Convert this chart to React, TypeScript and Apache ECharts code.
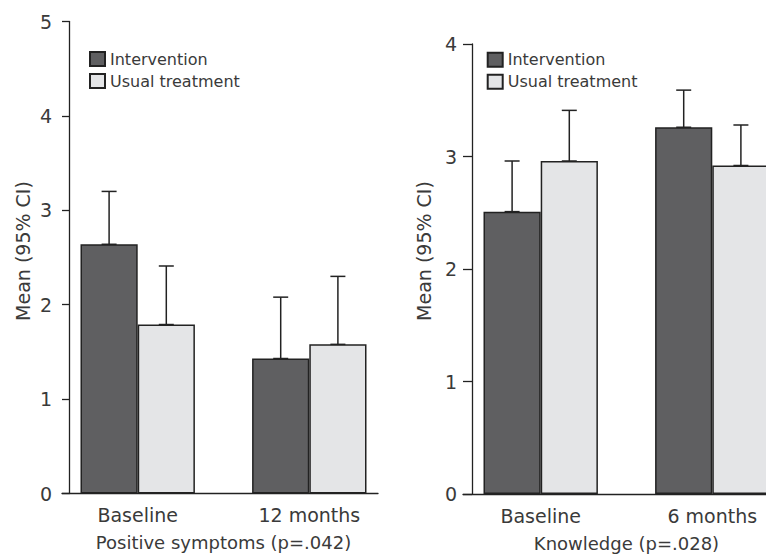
import React, { useEffect, useRef } from "react";
import * as echarts from "echarts";

const leftCategories = ["Baseline", "12 months"];
const leftIntervention = [2.64, 1.43];
const leftUsual = [1.79, 1.58];
const leftInterventionUpper = [3.2, 2.08];
const leftUsualUpper = [2.41, 2.3];
const leftTicks = { min: 0, max: 5, interval: 1 };
const leftTitle = "Positive symptoms (p=.042)";

const rightCategories = ["Baseline", "6 months"];
const rightIntervention = [2.51, 3.26];
const rightUsual = [2.96, 2.92];
const rightInterventionUpper = [2.96, 3.59];
const rightUsualUpper = [3.41, 3.28];
const rightTicks = { min: 0, max: 4, interval: 1 };
const rightTitle = "Knowledge (p=.028)";

const yName = "Mean (95% CI)";
const seriesNames = ["Intervention", "Usual treatment"];

const FONT = "DejaVu Sans";
const TEXT = "#3a3a3a";
const DARK = "#5f5f61";
const LIGHT = "#e4e5e7";
const EDGE = "#222222";

function errData(means: number[], uppers: number[], idx: number) {
  return means.map((m, i) => [i, uppers[i], m, idx]);
}

const renderErr = (params: any, api: any) => {
  const cat = api.value(0);
  const top = api.value(1);
  const base = api.value(2);
  const sIdx = api.value(3);
  const c = api.coord([cat, 0]);
  const band = api.size([1, 0])[0];
  const bw = band / 3;
  const x = c[0] + (sIdx === 0 ? -bw / 2 : bw / 2);
  const yT = api.coord([cat, top])[1];
  const yB = api.coord([cat, base])[1];
  const st = { stroke: EDGE, lineWidth: 1.5 };
  return {
    type: "group",
    children: [
      { type: "line", shape: { x1: x, y1: yB, x2: x, y2: yT }, style: st },
      { type: "line", shape: { x1: x - 7.5, y1: yT, x2: x + 7.5, y2: yT }, style: st },
      { type: "line", shape: { x1: x - 7.5, y1: yB, x2: x + 7.5, y2: yB }, style: st },
    ],
  };
};

export default function App() {
  const ref = useRef<HTMLDivElement>(null);
  useEffect(() => {
    if (!ref.current) return;
    const chart = echarts.init(ref.current, null, { renderer: "svg" });
    const axisText = { color: TEXT, fontFamily: FONT, fontSize: 19 };
    const nameText = { color: TEXT, fontFamily: FONT, fontSize: 18, lineHeight: 18 };
    const barBase = {
      type: "bar",
      barGap: "0%",
      barCategoryGap: "33.33%",
      z: 2,
    };
    const g = { outerBoundsMode: "none", containLabel: false };
    const option: any = {
      animation: false,
      backgroundColor: "#ffffff",
      textStyle: { fontFamily: FONT },
      grid: [
        { ...g, left: 62, top: 21.5, width: 316, height: 472 },
        { ...g, left: 51.9, top: 21.5, width: 343.2, height: 472 },
        { ...g, left: 463, top: 44, width: 320, height: 450 },
        { ...g, left: 454.9, top: 44, width: 343.2, height: 450 },
      ],
      xAxis: [
        {
          type: "category", gridIndex: 0, data: leftCategories,
          axisLine: { show: true, lineStyle: { color: EDGE, width: 1.3 } },
          axisTick: { show: false }, axisLabel: { show: false },
        },
        {
          type: "category", gridIndex: 1, data: leftCategories,
          axisLine: { show: false }, axisTick: { show: false },
          axisLabel: { ...axisText, margin: 12 },
          name: leftTitle, nameLocation: "middle", nameGap: 40,
          nameTextStyle: nameText,
        },
        {
          type: "category", gridIndex: 2, data: rightCategories,
          axisLine: { show: true, lineStyle: { color: EDGE, width: 1.3 } },
          axisTick: { show: false }, axisLabel: { show: false },
        },
        {
          type: "category", gridIndex: 3, data: rightCategories,
          axisLine: { show: false }, axisTick: { show: false },
          axisLabel: { ...axisText, margin: 12 },
          name: rightTitle, nameLocation: "middle", nameGap: 40,
          nameTextStyle: nameText,
        },
      ],
      yAxis: [
        {
          type: "value", gridIndex: 0, ...leftTicks, offset: -7,
          axisLine: { show: true, lineStyle: { color: EDGE, width: 1.3 } },
          axisTick: { show: true, length: 7, lineStyle: { color: EDGE, width: 1.3 } },
          splitLine: { show: false },
          axisLabel: { ...axisText, margin: 17 },
        },
        { type: "value", gridIndex: 1, ...leftTicks, show: false, splitLine: { show: false } },
        {
          type: "value", gridIndex: 2, ...rightTicks, offset: -9,
          axisLine: { show: true, lineStyle: { color: EDGE, width: 1.3 } },
          axisTick: { show: true, length: 9, lineStyle: { color: EDGE, width: 1.3 } },
          splitLine: { show: false },
          axisLabel: { ...axisText, margin: 15 },
        },
        { type: "value", gridIndex: 3, ...rightTicks, show: false, splitLine: { show: false } },
      ],
      legend: [
        {
          left: 89, top: 51, orient: "vertical", itemWidth: 15, itemHeight: 14,
          itemGap: 6, icon: "rect", data: seriesNames, selectedMode: false,
          textStyle: { color: TEXT, fontFamily: FONT, fontSize: 16, padding: [0, 0, 0, 0] },
          padding: 0,
        },
        {
          left: 486.7, top: 51.7, orient: "vertical", itemWidth: 15, itemHeight: 14,
          itemGap: 6, icon: "rect", data: seriesNames, selectedMode: false,
          textStyle: { color: TEXT, fontFamily: FONT, fontSize: 16, padding: [0, 0, 0, 0] },
          padding: 0,
        },
      ],
      graphic: [
        {
          type: "text", x: 23, y: 251, rotation: Math.PI / 2,
          style: { text: yName, fill: TEXT, font: `19px "${FONT}"`, textAlign: "center", textVerticalAlign: "middle" },
        },
        {
          type: "text", x: 424, y: 251, rotation: Math.PI / 2,
          style: { text: yName, fill: TEXT, font: `19px "${FONT}"`, textAlign: "center", textVerticalAlign: "middle" },
        },
      ],
      series: [
        {
          ...barBase, name: seriesNames[0], xAxisIndex: 1, yAxisIndex: 1, data: leftIntervention,
          itemStyle: { color: DARK, borderColor: EDGE, borderWidth: 1.5 },
        },
        {
          ...barBase, name: seriesNames[1], xAxisIndex: 1, yAxisIndex: 1, data: leftUsual,
          itemStyle: { color: LIGHT, borderColor: EDGE, borderWidth: 1.5 },
        },
        {
          ...barBase, name: seriesNames[0], xAxisIndex: 3, yAxisIndex: 3, data: rightIntervention,
          itemStyle: { color: DARK, borderColor: EDGE, borderWidth: 1.5 },
        },
        {
          ...barBase, name: seriesNames[1], xAxisIndex: 3, yAxisIndex: 3, data: rightUsual,
          itemStyle: { color: LIGHT, borderColor: EDGE, borderWidth: 1.5 },
        },
        {
          type: "custom", xAxisIndex: 1, yAxisIndex: 1, renderItem: renderErr, z: 5,
          data: [...errData(leftIntervention, leftInterventionUpper, 0), ...errData(leftUsual, leftUsualUpper, 1)],
          encode: { x: 0, y: 1 },
        },
        {
          type: "custom", xAxisIndex: 3, yAxisIndex: 3, renderItem: renderErr, z: 5,
          data: [...errData(rightIntervention, rightInterventionUpper, 0), ...errData(rightUsual, rightUsualUpper, 1)],
          encode: { x: 0, y: 1 },
        },
      ],
    };
    chart.setOption(option);
    return () => chart.dispose();
  }, []);
  return (
    <div
      ref={ref}
      style={{ position: "fixed", left: 0, top: 0, width: 766, height: 554, background: "#fff" }}
    />
  );
}
